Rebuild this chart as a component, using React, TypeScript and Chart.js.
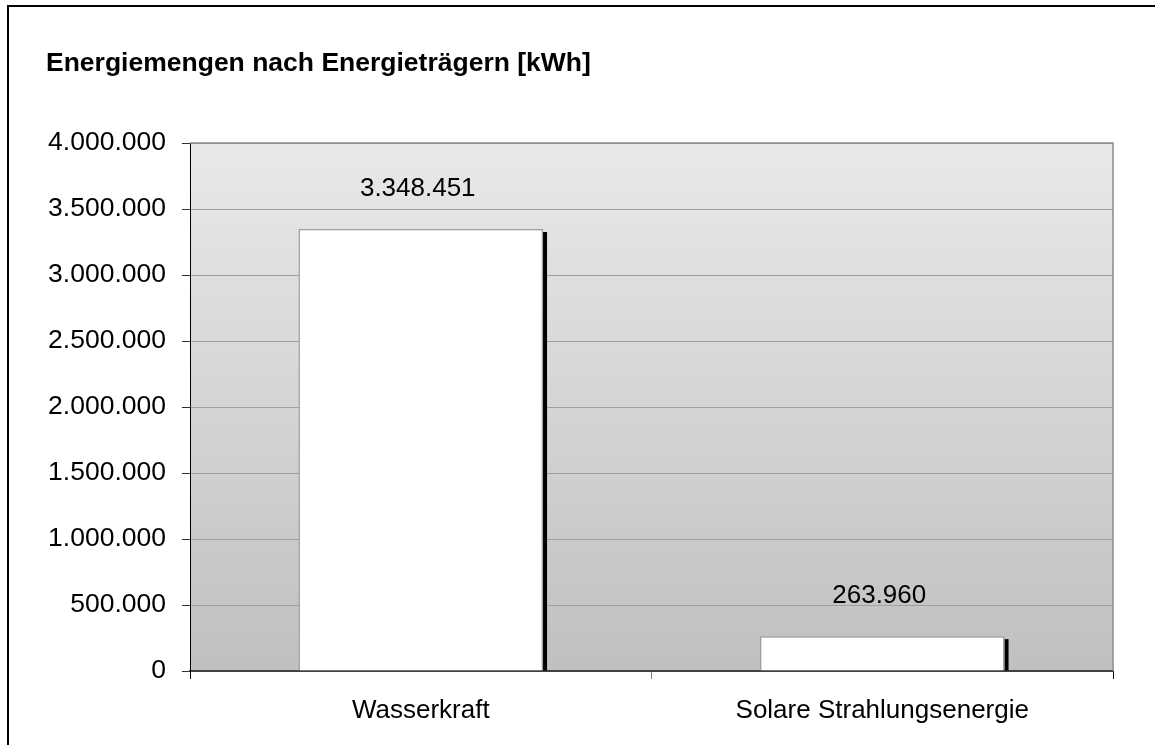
import React, { useEffect, useRef } from "react";
import { Chart, registerables } from "chart.js";

Chart.register(...registerables);

const categories = ["Wasserkraft", "Solare Strahlungsenergie"];
const energyKWh = [3348451, 263960];
const yTickValues = [0, 500000, 1000000, 1500000, 2000000, 2500000, 3000000, 3500000, 4000000];
const chartTitle = "Energiemengen nach Energieträgern [kWh]";

const FONT = '"Liberation Sans", Arial, sans-serif';

function fmt(v: number): string {
  const s = Math.round(v).toString();
  return s.replace(/\B(?=(\d{3})+(?!\d))/g, ".");
}

const decorPlugin = {
  id: "decor",
  beforeDraw(chart: any) {
    const { ctx, chartArea } = chart;
    ctx.save();
    ctx.fillStyle = "#ffffff";
    ctx.fillRect(0, 0, chart.width, chart.height);
    // outer frame (left + top)
    ctx.fillStyle = "#000000";
    ctx.fillRect(7, 5, 2, chart.height);
    ctx.fillRect(7, 5, chart.width, 2);
    // plot gradient
    const g = ctx.createLinearGradient(0, chartArea.top, 0, chartArea.bottom);
    g.addColorStop(0, "#e9e9e9");
    g.addColorStop(1, "#c0c0c0");
    ctx.fillStyle = g;
    ctx.fillRect(chartArea.left, chartArea.top, chartArea.right - chartArea.left, chartArea.bottom - chartArea.top);
    // title
    ctx.fillStyle = "#000000";
    ctx.font = `bold 26.5px ${FONT}`;
    ctx.textAlign = "left";
    ctx.textBaseline = "alphabetic";
    ctx.fillText(chartTitle, 46, 71);
    ctx.restore();
  },
  beforeDatasetsDraw(chart: any) {
    const { ctx, chartArea } = chart;
    ctx.save();
    // plot border top/right
    ctx.strokeStyle = "#8a8a8a";
    ctx.lineWidth = 1.5;
    ctx.beginPath();
    ctx.moveTo(chartArea.left, chartArea.top);
    ctx.lineTo(chartArea.right, chartArea.top);
    ctx.lineTo(chartArea.right, chartArea.bottom);
    ctx.stroke();
    // bar shadows
    const meta = chart.getDatasetMeta(0);
    ctx.fillStyle = "#000000";
    meta.data.forEach((bar: any) => {
      const right = bar.x + bar.width / 2;
      ctx.fillRect(right, bar.y + 3, 4, bar.base - bar.y - 3);
    });
    ctx.restore();
  },
  afterDatasetsDraw(chart: any) {
    const { ctx } = chart;
    const meta = chart.getDatasetMeta(0);
    ctx.save();
    ctx.fillStyle = "#000000";
    ctx.font = `26px ${FONT}`;
    ctx.textAlign = "center";
    ctx.textBaseline = "alphabetic";
    meta.data.forEach((bar: any, i: number) => {
      ctx.fillText(fmt(energyKWh[i]), bar.x - 3, bar.y - 33);
    });
    ctx.restore();
  },
};

export default function App() {
  const ref = useRef<HTMLCanvasElement | null>(null);

  useEffect(() => {
    document.body.style.margin = "0";
    const canvas = ref.current!;
    const chart = new Chart(canvas, {
      type: "bar",
      data: {
        labels: categories,
        datasets: [
          {
            data: energyKWh,
            backgroundColor: "#ffffff",
            borderColor: "#a0a0a0",
            borderWidth: 1.5,
            barPercentage: 0.53,
            categoryPercentage: 1,
          },
        ],
      },
      options: {
        responsive: false,
        animation: false,
        devicePixelRatio: 1,
        layout: { padding: { top: 143, left: 0, right: 42, bottom: 0 } },
        plugins: {
          legend: { display: false },
          title: { display: false },
          tooltip: { enabled: false },
        },
        scales: {
          x: {
            offset: true,
            grid: {
              drawOnChartArea: false,
              drawTicks: true,
              tickLength: 8,
              tickColor: (c: any) => (c.index === 1 ? "#808080" : "#000000"),
              lineWidth: 1,
            },
            border: { display: true, color: "#404040", width: 2 },
            ticks: {
              color: "#000000",
              font: { family: FONT, size: 26 },
              padding: 16,
              maxRotation: 0,
              autoSkip: false,
            },
            afterFit: (s: any) => {
              s.height = 74;
            },
          },
          y: {
            min: 0,
            max: 4000000,
            afterBuildTicks: (s: any) => {
              s.ticks = yTickValues.map((v) => ({ value: v }));
            },
            grid: {
              color: "#a0a0a0",
              lineWidth: 1,
              tickLength: 8,
              tickColor: "#303030",
            },
            border: { display: true, color: "#000000", width: 1 },
            ticks: {
              color: "#000000",
              font: { family: FONT, size: 26.5 },
              padding: 16,
              callback: (v: any) => fmt(Number(v)),
            },
            afterFit: (s: any) => {
              s.width = 190;
            },
          },
        },
      },
      plugins: [decorPlugin],
    });
    return () => chart.destroy();
  }, []);

  return (
    <div style={{ position: "fixed", left: 0, top: 0, width: 1155, height: 745 }}>
      <canvas ref={ref} width={1155} height={745} style={{ display: "block" }} />
    </div>
  );
}
